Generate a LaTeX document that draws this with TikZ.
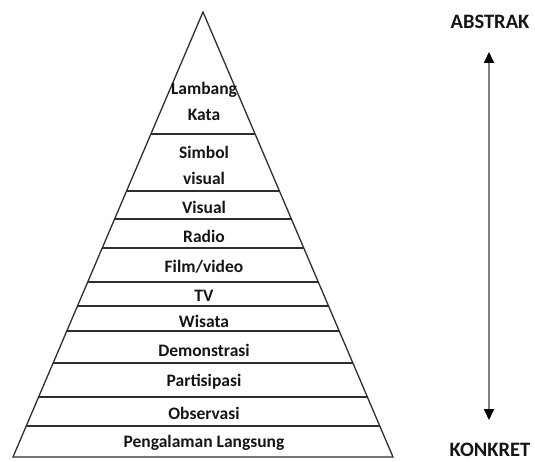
\documentclass[tikz,border=0pt]{standalone}
\usepackage{fontspec}
\setmainfont{Carlito}
\usetikzlibrary{arrows.meta}
\definecolor{ink}{HTML}{151515}
\definecolor{edge}{HTML}{2E2E2E}
\definecolor{shaft}{HTML}{808080}
\tikzset{
  level/.style={font=\bfseries\fontsize{17.5}{26}\selectfont, text=ink, align=center, inner sep=0pt},
  endlabel/.style={font=\bfseries\fontsize{20.5}{24}\selectfont, text=ink, inner sep=0pt},
  tier/.style={draw=edge, line width=1.3pt},
  scale arrow/.style={draw=shaft, line width=1.8pt, {Triangle[width=10pt,length=11pt,fill=black,color=black]}-{Triangle[width=10pt,length=11pt,fill=black,color=black]}}
}
\begin{document}
\begin{tikzpicture}[x=1pt, y=-1pt]
  \useasboundingbox (0,0) rectangle (535,462);
  % pyramid outline
  \coordinate (apex) at (203,12);
  \coordinate (bl) at (13,457);
  \coordinate (br) at (393,457);
  \draw[tier, line join=miter] (apex) -- (bl) -- (br) -- cycle;
  % tier dividers
  \foreach \y in {134,191,219,248,282,306,331,363,397,426}
    \draw[tier] ({203-0.42697*(\y-12)},\y) -- ({203+0.42697*(\y-12)},\y);
  % tier labels
  \node[level] (lambang) at (204,101) {Lambang\\Kata};
  \node[level] (simbol) at (204,165) {Simbol\\visual};
  \node[level] (visual) at (204,207) {Visual};
  \node[level] (radio) at (204,236) {Radio};
  \node[level] (film) at (204,267) {Film/video};
  \node[level] (tv) at (204,296) {TV};
  \node[level] (wisata) at (204,321) {Wisata};
  \node[level] (demo) at (204,350) {Demonstrasi};
  \node[level] (partisipasi) at (204,382) {Partisipasi};
  \node[level] (observasi) at (204,413) {Observasi};
  \node[level] (langsung) at (204,443) {Pengalaman Langsung};
  % abstract-concrete scale
  \node[endlabel] (abstrak) at (490,22) {ABSTRAK};
  \node[endlabel] (konkret) at (490,450) {KONKRET};
  \coordinate (top) at (489,52);
  \coordinate (bottom) at (489,420);
  \draw[scale arrow] (top) -- (bottom);
\end{tikzpicture}
\end{document}
